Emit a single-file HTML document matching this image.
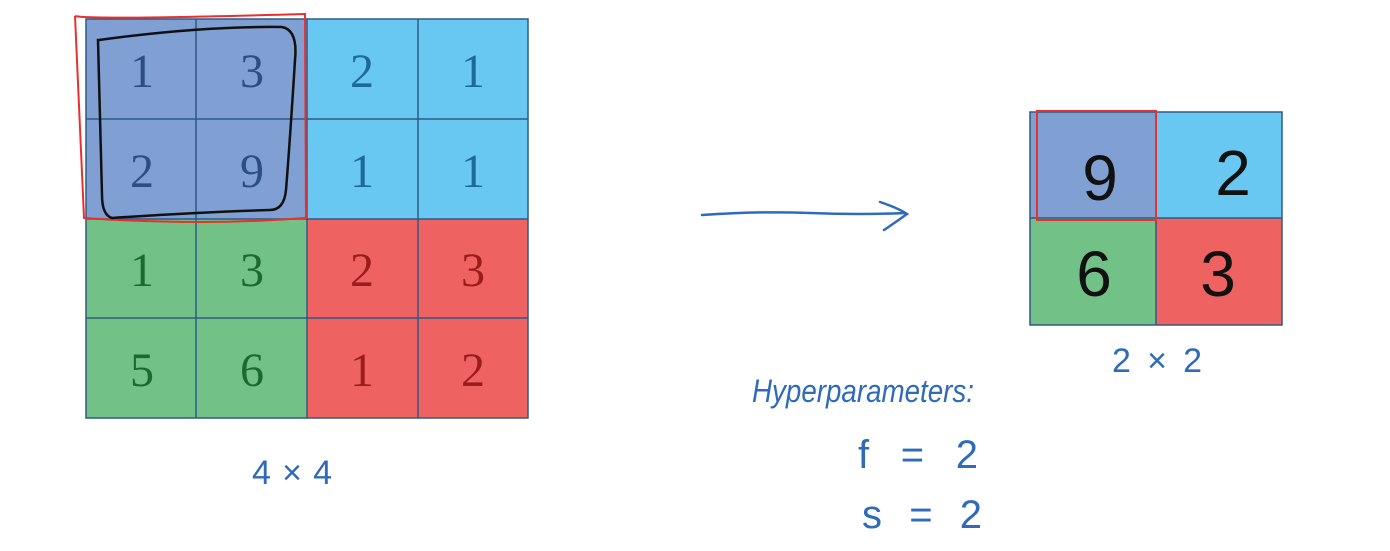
<!DOCTYPE html>
<html><head><meta charset="utf-8"><style>
html,body{margin:0;padding:0;background:#fff;}
svg{display:block;}
.n{font-family:"Liberation Serif",serif;font-size:48px;text-anchor:middle;}
.h{font-family:"Liberation Sans",sans-serif;fill:#2f6bb8;}
.k{font-family:"Liberation Sans",sans-serif;font-size:64px;text-anchor:middle;fill:#111;}
</style></head><body>
<svg width="1390" height="551" viewBox="0 0 1390 551" xmlns="http://www.w3.org/2000/svg">
<rect width="1390" height="551" fill="#fff"/>
<rect x="86" y="19" width="221" height="200" fill="#809fd3"/>
<rect x="307" y="19" width="221" height="200" fill="#68c8f2"/>
<rect x="86" y="219" width="221" height="199" fill="#72c186"/>
<rect x="307" y="219" width="221" height="199" fill="#ef6262"/>
<g stroke="#2f5a84" stroke-width="1.5" fill="none">
<rect x="86" y="19" width="442" height="399"/>
<line x1="196" y1="19" x2="196" y2="418"/><line x1="307" y1="19" x2="307" y2="418"/><line x1="418" y1="19" x2="418" y2="418"/>
<line x1="86" y1="119" x2="528" y2="119"/><line x1="86" y1="219" x2="528" y2="219"/><line x1="86" y1="318" x2="528" y2="318"/>
</g>
<g class="n">
<text x="142" y="87" fill="#2b4f80">1</text><text x="252" y="87" fill="#2b4f80">3</text>
<text x="362" y="87" fill="#1c6a98">2</text><text x="473" y="87" fill="#1c6a98">1</text>
<text x="142" y="187" fill="#2b4f80">2</text><text x="252" y="187" fill="#2b4f80">9</text>
<text x="362" y="187" fill="#1c6a98">1</text><text x="473" y="187" fill="#1c6a98">1</text>
<text x="142" y="286" fill="#1d6a2f">1</text><text x="252" y="286" fill="#1d6a2f">3</text>
<text x="362" y="286" fill="#9c1c1c">2</text><text x="473" y="286" fill="#9c1c1c">3</text>
<text x="142" y="386" fill="#1d6a2f">5</text><text x="252" y="386" fill="#1d6a2f">6</text>
<text x="362" y="386" fill="#9c1c1c">1</text><text x="473" y="386" fill="#9c1c1c">2</text>
</g>
<path d="M75 16 Q90 20 305 14 L306 218 Q200 226 84 218 Q80 120 75 16" fill="none" stroke="#e8302f" stroke-width="2"/>
<path d="M99 40 Q200 26 282 27 Q298 30 295 60 Q290 140 286 190 Q284 210 270 210 Q200 212 112 218 Q102 215 102 195 Q100 120 98 40 Z" fill="none" stroke="#111" stroke-width="2.5"/>
<text class="h" x="252" y="484" font-size="34" textLength="80">4×4</text>
<path d="M702 215 Q760 211 810 213 Q860 215 905 213 M880 202 Q898 208 907 214 Q896 222 884 230" fill="none" stroke="#2f6bb8" stroke-width="2.5" stroke-linecap="round"/>
<rect x="1030" y="112" width="126" height="106" fill="#809fd3"/>
<rect x="1156" y="112" width="126" height="106" fill="#68c8f2"/>
<rect x="1030" y="218" width="126" height="107" fill="#72c186"/>
<rect x="1156" y="218" width="126" height="107" fill="#ef6262"/>
<g stroke="#2f5a84" stroke-width="1.5" fill="none">
<rect x="1030" y="112" width="252" height="213"/>
<line x1="1156" y1="112" x2="1156" y2="325"/><line x1="1030" y1="218" x2="1282" y2="218"/>
</g>
<rect x="1037" y="111" width="119" height="109" fill="none" stroke="#e8302f" stroke-width="2"/>
<text class="k" x="1100" y="200">9</text>
<text class="k" x="1233" y="195">2</text>
<text class="k" x="1094" y="296">6</text>
<text class="k" x="1218" y="296">3</text>
<text class="h" x="1112" y="372" font-size="34" textLength="90">2×2</text>
<text class="h" x="752" y="402" font-size="32" font-style="italic" textLength="222" lengthAdjust="spacingAndGlyphs">Hyperparameters:</text>
<text class="h" x="858" y="468" font-size="40" textLength="120">f = 2</text>
<text class="h" x="862" y="528" font-size="40" textLength="120">s = 2</text>
</svg>
</body></html>
